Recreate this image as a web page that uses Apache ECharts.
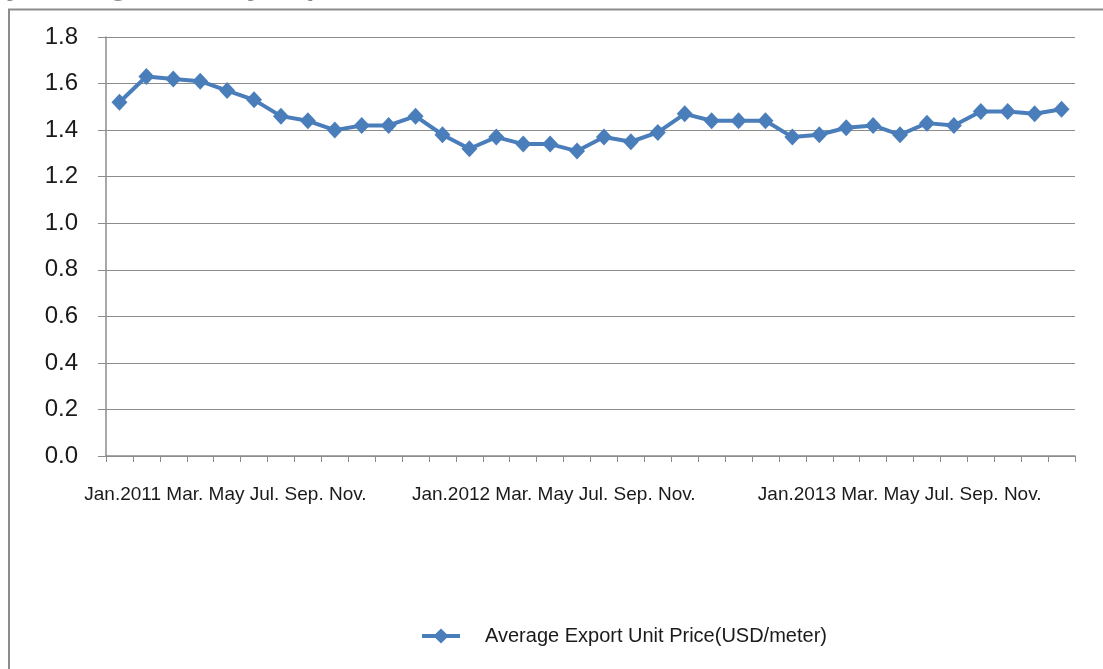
<!DOCTYPE html>
<html>
<head>
<meta charset="utf-8">
<script src="https://cdn.jsdelivr.net/npm/echarts@6/dist/echarts.min.js"></script>
<style>
html,body{margin:0;padding:0;background:#fff;}
#chart{width:1103px;height:669px;}
</style>
</head>
<body>
<div id="chart"></div>
<script>
// Months Jan 2011 .. Dec 2013
var categories = [
  '2011-01','2011-02','2011-03','2011-04','2011-05','2011-06','2011-07','2011-08','2011-09','2011-10','2011-11','2011-12',
  '2012-01','2012-02','2012-03','2012-04','2012-05','2012-06','2012-07','2012-08','2012-09','2012-10','2012-11','2012-12',
  '2013-01','2013-02','2013-03','2013-04','2013-05','2013-06','2013-07','2013-08','2013-09','2013-10','2013-11','2013-12'
];
var priceValues = [
  1.52,1.63,1.62,1.61,1.57,1.53,1.46,1.44,1.40,1.42,1.42,1.46,
  1.38,1.32,1.37,1.34,1.34,1.31,1.37,1.35,1.39,1.47,1.44,1.44,
  1.44,1.37,1.38,1.41,1.42,1.38,1.43,1.42,1.48,1.48,1.47,1.49
];
var tickLabels = [
  'Jan.2011','','Mar.','','May','','Jul.','','Sep.','','Nov.','',
  'Jan.2012','','Mar.','','May','','Jul.','','Sep.','','Nov.','',
  'Jan.2013','','Mar.','','May','','Jul.','','Sep.','','Nov.',''
];
var yTicks = [0,0.2,0.4,0.6,0.8,1.0,1.2,1.4,1.6,1.8];
var seriesName = 'Average Export Unit Price(USD/meter)';
var titleText = 'Monthly Average Monthly Export Unit Price';

// Each year's labels are drawn as one packed run (as in the source), right-aligned
// at a category near where the run ends; style key gives a small nudge.
var yearRunEnd = {10: [0, 'a'], 22: [12, 'b'], 35: [24, 'c']};
function yearRun(start) {
  return tickLabels.slice(start, start + 12).filter(function (s) { return s; }).join(' ');
}

var chart = echarts.init(document.getElementById('chart'), null, {renderer: 'canvas'});
var axisGrey = '#8c8c8c';
var blue = '#4a7ebb';
var lblFont = 19;
chart.setOption({
  animation: false,
  backgroundColor: '#fff',
  textStyle: {fontFamily: 'Liberation Sans, Arial, sans-serif'},
  graphic: [
    {type: 'line', shape: {x1: 8, y1: 9.5, x2: 1103, y2: 9.5}, style: {stroke: axisGrey, lineWidth: 2}, silent: true},
    {type: 'line', shape: {x1: 9, y1: 9, x2: 9, y2: 669}, style: {stroke: axisGrey, lineWidth: 2}, silent: true},
    {type: 'text', left: -89, top: -28, silent: true,
      style: {text: titleText, font: 'bold 29px Liberation Sans, Arial, sans-serif', fill: '#8a8a8a'}}
  ],
  grid: {left: 106, right: 28, top: 37, bottom: 213, containLabel: false},
  legend: {
    left: 420, top: 626,
    padding: 0,
    itemWidth: 38, itemHeight: 19,
    data: [seriesName],
    lineStyle: {width: 4, color: blue},
    itemStyle: {color: blue},
    textStyle: {fontSize: 20, color: '#1a1a1a', padding: [0, 0, 0, 20], fontFamily: 'Liberation Sans, Arial, sans-serif'}
  },
  xAxis: {
    type: 'category',
    data: categories,
    boundaryGap: true,
    axisLine: {show: true, lineStyle: {color: axisGrey, width: 1.5}},
    axisTick: {show: true, interval: 0, length: 6, inside: false, lineStyle: {color: axisGrey}},
    axisLabel: {
      interval: 0,
      margin: 29,
      fontSize: lblFont,
      color: '#1a1a1a',
      align: 'right',
      rich: {
        a: {fontSize: lblFont, color: '#1a1a1a', padding: [0, 22, 0, 0]},
        b: {fontSize: lblFont, color: '#1a1a1a', padding: [0, 16, 0, 0]},
        c: {fontSize: lblFont, color: '#1a1a1a', padding: [0, 20, 0, 0]}
      },
      formatter: function (v, i) {
        if (!yearRunEnd.hasOwnProperty(i)) return '';
        var e = yearRunEnd[i];
        return '{' + e[1] + '|' + yearRun(e[0]) + '}';
      }
    },
    splitLine: {show: false}
  },
  yAxis: {
    type: 'value',
    min: yTicks[0],
    max: yTicks[yTicks.length - 1],
    interval: 0.2,
    axisLine: {show: true, lineStyle: {color: axisGrey, width: 1.5}},
    axisTick: {show: true, length: 8, lineStyle: {color: axisGrey}},
    axisLabel: {
      fontSize: 24, color: '#1a1a1a', margin: 28,
      formatter: function (v) { return v.toFixed(1); }
    },
    splitLine: {show: true, lineStyle: {color: axisGrey, width: 1.2}}
  },
  series: [{
    name: seriesName,
    type: 'line',
    data: priceValues,
    symbol: 'diamond',
    symbolSize: [16, 17],
    lineStyle: {color: blue, width: 4},
    itemStyle: {color: blue},
    z: 3
  }]
});
</script>
</body>
</html>
